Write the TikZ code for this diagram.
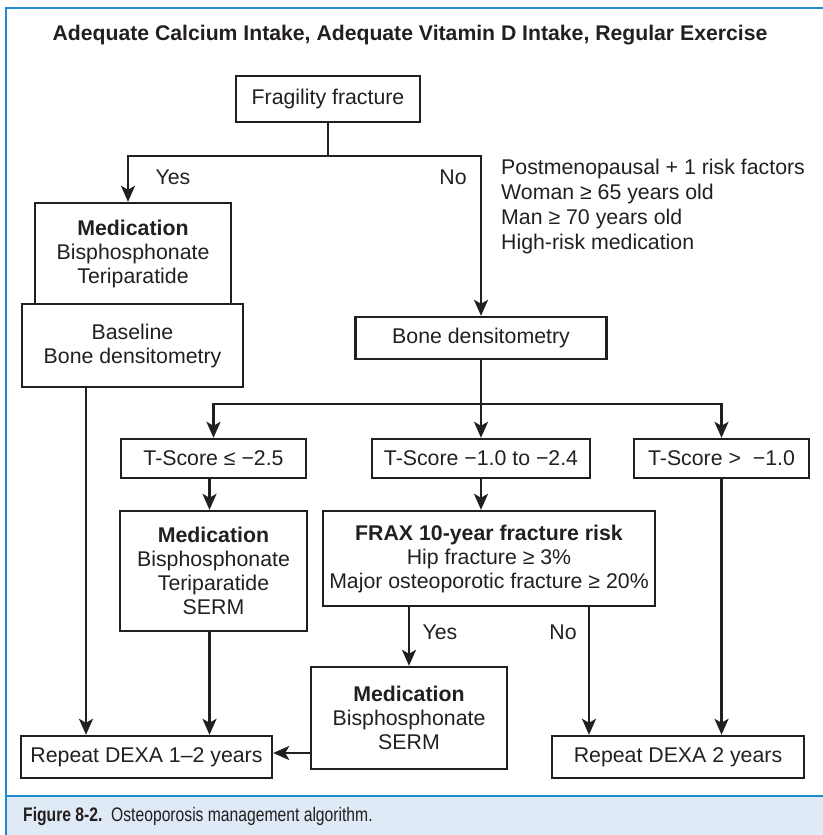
\documentclass[tikz,border=0pt]{standalone}
\usepackage{fontspec}
\setmainfont{Liberation Sans}
\newfontfamily\capfont{Liberation Sans}[FakeStretch=0.8]
\usetikzlibrary{arrows.meta}

\definecolor{frameblue}{RGB}{30,140,210}
\definecolor{capfill}{RGB}{224,234,247}
\definecolor{ink}{RGB}{35,31,32}

\begin{document}
\begin{tikzpicture}[x=1pt,y=-1pt,
  box/.style={draw=ink,line width=2.4pt,inner sep=0pt,align=center,text=ink,font=\fontsize{21.3}{24}\selectfont},
  flow/.style={draw=ink,line width=2.4pt,-{Stealth[length=16pt,width=14pt,inset=4pt]}},
  link/.style={draw=ink,line width=2.4pt},
  lbl/.style={text=ink,inner sep=0pt,font=\fontsize{21.3}{24}\selectfont}]

\useasboundingbox (0,0) rectangle (822,835);

%Frame and caption band
\fill[capfill] (6,796) rectangle (824,836);
\draw[frameblue,line width=1.6pt] (824,8) -- (6,8) -- (6,836);
\draw[frameblue,line width=1.6pt] (6,796) -- (824,796);

% Title
\node[lbl,font=\bfseries\fontsize{21.2}{24}\selectfont] (title) at (410,35) {Adequate Calcium Intake, Adequate Vitamin D Intake, Regular Exercise};

%Boxes
\node[box,minimum width=184pt,minimum height=46pt] (frac) at (328,99) {Fragility fracture};
\node[box,minimum width=196pt,minimum height=101pt] (med1) at (133,253.5) {\textbf{Medication}\\Bisphosphonate\\Teriparatide};
\node[box,minimum width=221pt,minimum height=83pt] (base) at (132.5,345.5) {Baseline\\Bone densitometry};
\node[box,minimum width=251pt,minimum height=42pt] (bone) at (481,338) {Bone densitometry};
\node[box,minimum width=185pt,minimum height=39pt] (ts1) at (213.5,458.5) {T-Score ≤ −2.5};
\node[box,minimum width=218pt,minimum height=39pt] (ts2) at (481,458.5) {T-Score −1.0 to −2.4};
\node[box,minimum width=175pt,minimum height=39pt] (ts3) at (721.5,458.5) {T-Score >\ \ −1.0};
\node[box,minimum width=187pt,minimum height=120pt] (med2) at (213.5,571) {\textbf{Medication}\\Bisphosphonate\\Teriparatide\\SERM};
\node[box,minimum width=332pt,minimum height=95pt] (frax) at (489,558.5) {\textbf{FRAX 10-year fracture risk}\\Hip fracture ≥ 3\%\\Major osteoporotic fracture ≥ 20\%};
\node[box,minimum width=196pt,minimum height=102pt] (med3) at (409,718) {\textbf{Medication}\\Bisphosphonate\\SERM};
\node[box,minimum width=251pt,minimum height=42pt] (rep1) at (146.5,757) {Repeat DEXA 1–2 years};
\node[box,minimum width=252pt,minimum height=42pt] (rep2) at (678,757) {Repeat DEXA 2 years};

% Text Node
\node[lbl,anchor=west,align=left,font=\fontsize{21.3}{25}\selectfont] (risk) at (501,206.5) {Postmenopausal + 1 risk factors\\Woman ≥ 65 years old\\Man ≥ 70 years old\\High-risk medication};
\node[lbl] (yes1) at (173,177) {Yes};
\node[lbl] (no1) at (453,177) {No};
\node[lbl] (yes2) at (440,632) {Yes};
\node[lbl] (no2) at (563,632) {No};

%Connectors
\coordinate (yesx) at (128,156);
\coordinate (nox) at (481,156);
\coordinate (split) at (481,404);
\coordinate (basex) at (86,0);
\coordinate (medx) at (209.5,0);
\coordinate (fraxno) at (589,0);
\coordinate (backy) at (0,753);

\draw[flow] (frac.south) |- (yesx) -- (yesx |- med1.north);
\draw[flow] (frac.south) |- (nox) -- (bone.north);
\draw[link] (bone.south) -- (split);
\draw[flow] (split) -| (ts1.north);
\draw[flow] (split) -| (ts3.north);
\draw[flow] (split) -- (ts2.north);
\draw[flow] (ts1.south -| medx) -- (med2.north -| medx);
\draw[flow] (ts2.south) -- (frax.north -| ts2.south);
\draw[flow] (base.south -| basex) -- (rep1.north -| basex);
\draw[flow] (med2.south -| medx) -- (rep1.north -| medx);
\draw[flow] (frax.south -| med3.north) -- (med3.north);
\draw[flow] (frax.south -| fraxno) -- (rep2.north -| fraxno);
\draw[flow] (ts3.south) -- (ts3.south |- rep2.north);
\draw[flow] (med3.west |- backy) -- (rep1.east |- backy);

% Caption
\node[anchor=west,inner sep=0pt,text=ink,font=\capfont\fontsize{19.6}{22}\selectfont] (cap) at (23,816) {\textbf{Figure 8-2.}\ \ Osteoporosis management algorithm.};
\end{tikzpicture}
\end{document}
